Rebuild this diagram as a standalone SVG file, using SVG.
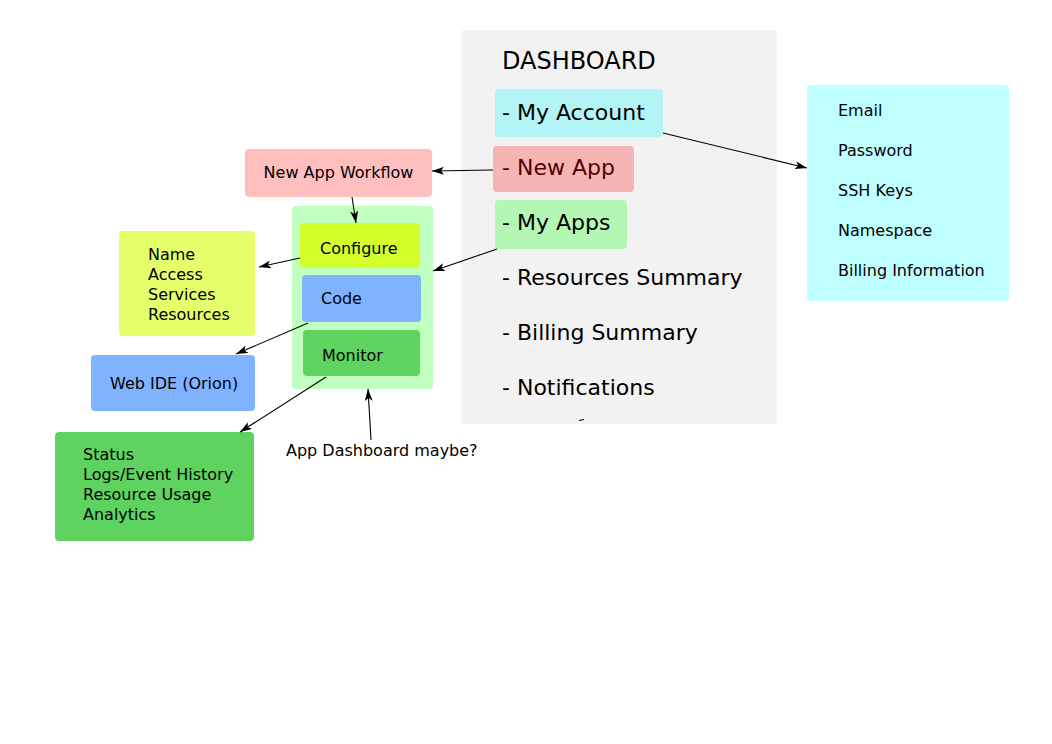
<svg xmlns="http://www.w3.org/2000/svg" width="1052" height="744" viewBox="0 0 1052 744">
  <style>
    text { font-family: "DejaVu Sans", "Liberation Sans", sans-serif; fill: #000; }
    .big { font-size: 22px; }
    .sm { font-size: 16px; }
    .edge { stroke: #000; stroke-width: 1.1; fill: none; marker-end: url(#arrow); }
  </style>
  <defs>
    <marker id="arrow" viewBox="0 0 12 8" refX="12" refY="4" markerWidth="12" markerHeight="8" markerUnits="userSpaceOnUse" orient="auto">
      <path d="M0,0 L12,4 L0,8 L3,4 Z" fill="#000"/>
    </marker>
  </defs>
  <rect width="1052" height="744" fill="#fff"/>

  <!-- main dashboard panel -->
  <g id="dashboard">
    <rect x="461" y="30" width="316" height="394" rx="4" fill="#f2f2f2"/>
    <text x="502" y="69" style="font-size:24px">DASHBOARD</text>
    <path d="M579,420.5 L584,419.5" stroke="#000" stroke-width="1"/>
  </g>
  <g id="my-account">
    <rect x="495" y="89" width="168" height="48" rx="4" fill="#b3f4f4"/>
    <text class="big" x="502" y="120">- My Account</text>
  </g>
  <g id="new-app">
    <rect x="493" y="146" width="141" height="46" rx="4" fill="#f5b5b5"/>
    <text class="big" x="502" y="175" style="fill:#500000">- New App</text>
  </g>
  <g id="my-apps">
    <rect x="495" y="200" width="132" height="49" rx="4" fill="#b4f7b4"/>
    <text class="big" x="502" y="230">- My Apps</text>
  </g>
  <g id="resources-summary">
    <text class="big" x="502" y="285">- Resources Summary</text>
  </g>
  <g id="billing-summary">
    <text class="big" x="502" y="340">- Billing Summary</text>
  </g>
  <g id="notifications">
    <text class="big" x="502" y="395">- Notifications</text>
  </g>

  <!-- account details -->
  <g id="account-details">
    <rect x="807" y="85" width="202" height="216" rx="4" fill="#c0ffff"/>
    <text class="sm" x="838" y="116">Email</text>
    <text class="sm" x="838" y="156">Password</text>
    <text class="sm" x="838" y="196">SSH Keys</text>
    <text class="sm" x="838" y="236">Namespace</text>
    <text class="sm" x="838" y="276">Billing Information</text>
  </g>

  <!-- new app workflow -->
  <g id="new-app-workflow">
    <rect x="245" y="149" width="187" height="48" rx="4" fill="#ffbfbf"/>
    <text class="sm" x="338.5" y="178" text-anchor="middle">New App Workflow</text>
  </g>

  <!-- app container -->
  <g id="app-panel">
    <rect x="292" y="206" width="141" height="183" rx="4" fill="#c0ffc0"/>
  </g>
  <g id="configure">
    <rect x="300" y="223" width="120" height="45" rx="4" fill="#d4ff2a"/>
    <text class="sm" x="320" y="254">Configure</text>
  </g>
  <g id="code">
    <rect x="302" y="275" width="119" height="47" rx="4" fill="#80b3ff"/>
    <text class="sm" x="321" y="304">Code</text>
  </g>
  <g id="monitor">
    <rect x="303" y="330" width="117" height="46" rx="4" fill="#5fd35f"/>
    <text class="sm" x="322" y="361">Monitor</text>
  </g>

  <!-- detail boxes on the left -->
  <g id="configure-details">
    <rect x="119" y="231" width="136" height="105" rx="4" fill="#e5ff6a"/>
    <text class="sm" x="148" y="260">Name</text>
    <text class="sm" x="148" y="280">Access</text>
    <text class="sm" x="148" y="300">Services</text>
    <text class="sm" x="148" y="320">Resources</text>
  </g>
  <g id="web-ide">
    <rect x="91" y="355" width="164" height="56" rx="4" fill="#80b3ff"/>
    <text class="sm" x="110" y="389">Web IDE (Orion)</text>
  </g>
  <g id="monitor-details">
    <rect x="55" y="432" width="199" height="109" rx="4" fill="#5fd35f"/>
    <text class="sm" x="83" y="460">Status</text>
    <text class="sm" x="83" y="480">Logs/Event History</text>
    <text class="sm" x="83" y="500">Resource Usage</text>
    <text class="sm" x="83" y="520">Analytics</text>
  </g>

  <g id="note">
    <text class="sm" x="286" y="456">App Dashboard maybe?</text>
  </g>

  <!-- connectors -->
  <g id="connectors">
    <path class="edge" d="M663,133 L807,168"/>
    <path class="edge" d="M493,170 L432,171"/>
    <path class="edge" d="M352,197 L356,223"/>
    <path class="edge" d="M497,249 L433,271"/>
    <path class="edge" d="M300,258 L259,267"/>
    <path class="edge" d="M308,323 L236,354"/>
    <path class="edge" d="M326,377 L240,432"/>
    <path class="edge" d="M371,440 L368,389"/>
  </g>
</svg>
